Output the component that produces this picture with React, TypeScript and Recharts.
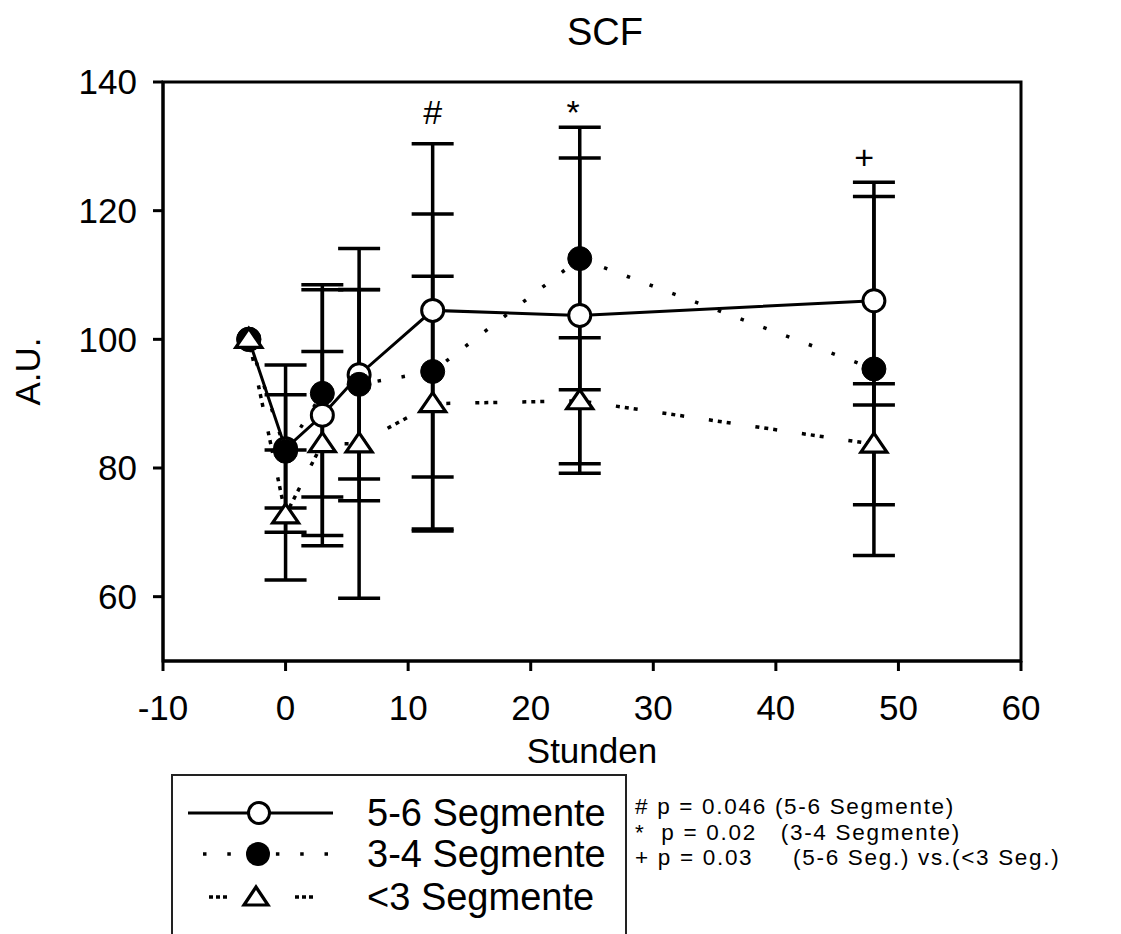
import React from 'react';
import { ComposedChart, Line, XAxis, YAxis, ErrorBar, ReferenceArea, ReferenceDot, Legend } from 'recharts';

// Stunden
const hours = [-3, 0, 3, 6, 12, 24, 48];

// means and SD per group
const seg56 = [100, 83, 88.2, 94.5, 104.5, 103.7, 106.0];
const seg56Err = [null, 13, 20.3, 19.6, 25.9, 24.5, 16.2];
const seg34 = [100, 82.6, 91.6, 93.0, 95.0, 112.55, 95.4];
const seg34Err = [null, 8.8, 16.1, 14.7, 24.5, 20.4, 29];
const seg3 = [100, 72.7, 83.8, 83.75, 90.0, 90.45, 83.7];
const seg3Err = [null, 10.1, 14.3, 24, 19.8, 9.8, 9.4];

const xTicks = [-10, 0, 10, 20, 30, 40, 50, 60];
const yTicks = [60, 80, 100, 120, 140];

const sigMarks = [
  { t: 12, v: 133.4, mark: '#' },
  { t: 23.45, v: 133.4, mark: '*' },
  { t: 47.2, v: 126.5, mark: '+' },
];

const notes = [
  '# p = 0.046 (5-6 Segmente)',
  '*  p = 0.02   (3-4 Segmente)',
  '+ p = 0.03     (5-6 Seg.) vs.(<3 Seg.)',
];

const toRows = (vals: number[], errs: (number | null)[]) =>
  hours.map((t, i) => ({ t, v: vals[i], err: errs[i] }));

const data56 = toRows(seg56, seg56Err);
const data34 = toRows(seg34, seg34Err);
const data3 = toRows(seg3, seg3Err);

const FONT = '"Liberation Sans", Arial, Helvetica, sans-serif';

const OpenCircle = (p: any) => (
  <circle key={`o-${p.index}`} cx={p.cx} cy={p.cy} r={11} fill="#fff" stroke="#000" strokeWidth={3} />
);
const FilledCircle = (p: any) => (
  <circle key={`f-${p.index}`} cx={p.cx} cy={p.cy} r={12} fill="#000" stroke="#000" strokeWidth={1} />
);
const Triangle = (p: any) => (
  <polygon
    key={`t-${p.index}`}
    points={`${p.cx},${p.cy - 11} ${p.cx - 13},${p.cy + 8} ${p.cx + 13},${p.cy + 8}`}
    fill="#fff"
    stroke="#000"
    strokeWidth={3.2}
    strokeLinejoin="miter"
  />
);

const series = [
  { name: '5-6 Segmente', data: data56, dash: undefined, width: 3, dot: OpenCircle, marker: 'open' },
  { name: '3-4 Segmente', data: data34, dash: '3.5 20.8', width: 3.5, dot: FilledCircle, marker: 'filled' },
  { name: '<3 Segmente', data: data3, dash: '4 5 4 5 4 25', width: 3.5, dot: Triangle, marker: 'tri' },
];

function LegendBox() {
  const rowY = [37, 78, 121];
  return (
    <div
      style={{
        width: 456,
        height: 200,
        border: '2px solid #222',
        boxSizing: 'border-box',
        position: 'relative',
        background: '#fff',
        fontFamily: FONT,
      }}
    >
      {series.map((s, i) => {
        const y = rowY[i];
        return (
          <React.Fragment key={s.name}>
            <svg width={190} height={40} style={{ position: 'absolute', left: 0, top: y - 20 }}>
              {s.marker === 'open' && <line x1={15} x2={160} y1={20} y2={20} stroke="#000" strokeWidth={3} />}
              {s.marker === 'filled' && (
                <line x1={30} x2={160} y1={20} y2={20} stroke="#000" strokeWidth={3.5} strokeDasharray="3.5 20.8" />
              )}
              {s.marker === 'tri' && (
                <>
                  <line x1={36} x2={54} y1={20} y2={20} stroke="#000" strokeWidth={3.5} strokeDasharray="4 3 4 3 4" />
                  <line x1={122} x2={142} y1={20} y2={20} stroke="#000" strokeWidth={3.5} strokeDasharray="4 3 4 3 4" />
                </>
              )}
              {s.marker === 'open' && <circle cx={86} cy={20} r={10.5} fill="#fff" stroke="#000" strokeWidth={3} />}
              {s.marker === 'filled' && <circle cx={85} cy={20} r={12} fill="#000" />}
              {s.marker === 'tri' && (
                <polygon points="83,10 71,28 95,28" fill="#fff" stroke="#000" strokeWidth={3.2} />
              )}
            </svg>
            <div
              style={{
                position: 'absolute',
                left: 194,
                top: y - 23,
                fontSize: 38,
                lineHeight: '46px',
                whiteSpace: 'nowrap',
                color: '#000',
              }}
            >
              {s.name}
            </div>
          </React.Fragment>
        );
      })}
    </div>
  );
}

export default function App() {
  return (
    <div
      style={{
        position: 'absolute',
        left: 0,
        top: 0,
        width: 1121,
        height: 934,
        overflow: 'hidden',
        background: '#fff',
        fontFamily: FONT,
      }}
    >
      <div
        style={{
          position: 'absolute',
          left: 0,
          width: 1210,
          top: 10,
          textAlign: 'center',
          fontSize: 38,
          lineHeight: '44px',
          color: '#000',
        }}
      >
        SCF
      </div>
      <ComposedChart
        width={1121}
        height={934}
        margin={{ top: 82, right: 100, bottom: 163, left: 23 }}
        style={{ fontFamily: FONT }}
      >
        <ReferenceArea x1={-10} x2={60} y1={50} y2={140} fill="none" stroke="#000" strokeWidth={3} ifOverflow="visible" />
        <XAxis
          type="number"
          dataKey="t"
          domain={[-10, 60]}
          ticks={xTicks}
          allowDataOverflow
          height={110}
          tickSize={10}
          tickMargin={24}
          axisLine={{ stroke: '#000', strokeWidth: 3 }}
          tickLine={{ stroke: '#000', strokeWidth: 3 }}
          tick={{ fill: '#000', fontSize: 35, fontFamily: FONT }}
          label={{ value: 'Stunden', position: 'insideBottom', offset: 8, fontSize: 35, fill: '#000', fontFamily: FONT }}
        />
        <YAxis
          type="number"
          domain={[50, 140]}
          ticks={yTicks}
          allowDataOverflow
          width={140}
          tickSize={10}
          tickMargin={16}
          axisLine={{ stroke: '#000', strokeWidth: 3 }}
          tickLine={{ stroke: '#000', strokeWidth: 3 }}
          tick={{ fill: '#000', fontSize: 35, fontFamily: FONT }}
          label={{
            value: 'A.U.',
            angle: -90,
            position: 'insideLeft',
            offset: 5,
            fontSize: 35,
            fill: '#000',
            fontFamily: FONT,
            style: { textAnchor: 'middle' },
          }}
        />
        {series.map((s) => (
          <Line
            key={s.name}
            data={s.data}
            dataKey="v"
            name={s.name}
            type="linear"
            stroke="#000"
            strokeWidth={s.width}
            strokeDasharray={s.dash}
            dot={s.dot}
            activeDot={false}
            isAnimationActive={false}
          >
            <ErrorBar dataKey="err" width={21} strokeWidth={3.5} stroke="#000" direction="y" />
          </Line>
        ))}
        {sigMarks.map((m) => (
          <ReferenceDot
            key={m.mark}
            x={m.t}
            y={m.v}
            r={0}
            ifOverflow="visible"
            shape={(p: any) => (
              <text x={p.cx} y={p.cy} textAnchor="middle" fontSize={34} fontFamily={FONT} fill="#000">
                {m.mark}
              </text>
            )}
          />
        ))}
        <Legend
          verticalAlign="middle"
          align="center"
          layout="horizontal"
          wrapperStyle={{ position: 'absolute', left: 171, top: 774, width: 456, height: 200 }}
          content={() => <LegendBox />}
        />
      </ComposedChart>
      <div
        style={{
          position: 'absolute',
          left: 635,
          top: 794,
          fontSize: 22.5,
          lineHeight: '25.5px',
          letterSpacing: '1.7px',
          whiteSpace: 'pre',
          color: '#000',
        }}
      >
        {notes.map((n) => (
          <div key={n}>{n}</div>
        ))}
      </div>
    </div>
  );
}
